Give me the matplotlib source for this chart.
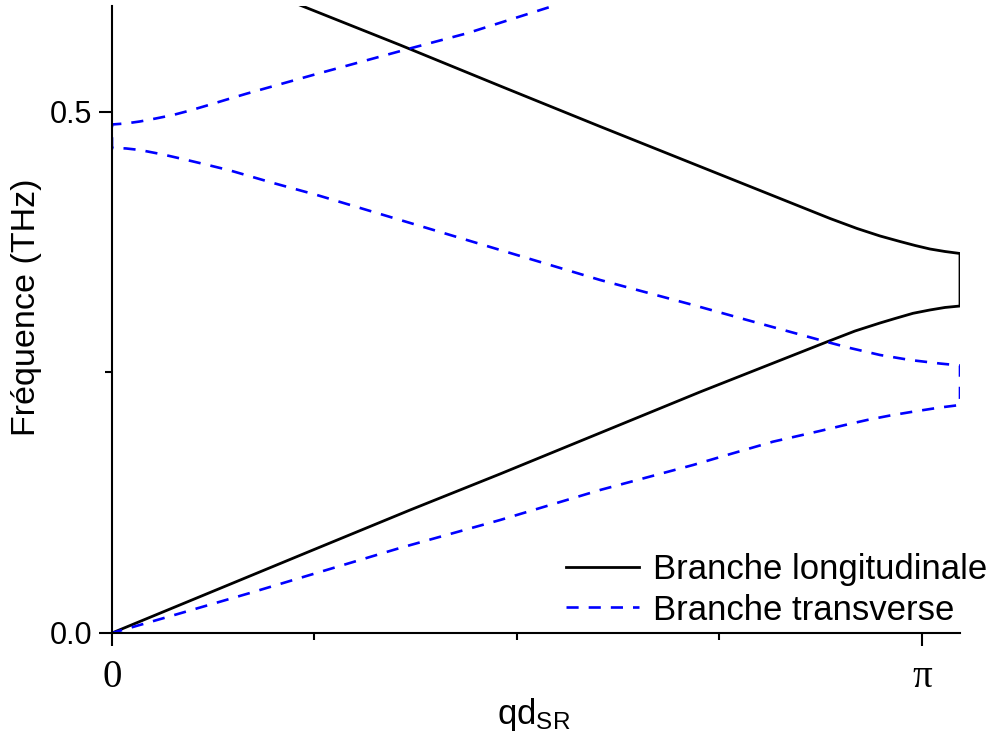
import numpy as np
import matplotlib
matplotlib.use('Agg')
import matplotlib.pyplot as plt

plt.rcParams['font.family'] = ['Liberation Sans', 'DejaVu Sans']
plt.rcParams['mathtext.default'] = 'regular'

# branche longitudinale : branche haute (de gauche a droite), puis branche basse (retour vers 0)
qL = [0.7214, 1.1170, 1.5049, 1.8927, 2.2806, 2.5908, 2.7848, 2.8895, 2.9787, 3.0563, 3.1144,
      3.1726, 3.2308, 3.2890,
      3.2890, 3.2308, 3.1726, 3.1067, 3.0369, 2.9787, 2.8817, 2.7720, 2.2806, 1.5049, 1.1558,
      0.7680, 0.0]
fL = [0.6033, 0.5643, 0.5250, 0.4861, 0.4477, 0.4170, 0.3978, 0.3882, 0.3810, 0.3757, 0.3719,
      0.3685, 0.3661, 0.3642,
      0.3138, 0.3124, 0.3100, 0.3068, 0.3018, 0.2975, 0.2898, 0.2793, 0.2313, 0.1526, 0.1180,
      0.0785, 0.0]

# branche transverse
qT = [1.7764, 1.7104, 1.3769, 1.1442, 0.7796, 0.5236, 0.4460, 0.3685, 0.3025, 0.2366, 0.1707,
      0.1086, 0.0543, 0.0,
      0.0, 0.0543, 0.1086, 0.1978, 0.2909, 0.3723, 0.4577, 0.6244, 0.7951, 1.1170, 1.5049, 1.8927,
      2.2534, 2.4628, 2.7731, 2.8623, 2.9787, 3.0950, 3.2114, 3.2890,
      3.2890, 3.2114, 3.1067, 3.0175, 2.9283, 2.8429, 2.7460, 2.5637, 2.3853, 2.2534, 1.8927,
      1.5049, 1.1170, 0.7679, 0.5352, 0.2521, 0.0]
fT = [0.6064, 0.6017, 0.5755, 0.5602, 0.5355, 0.5177, 0.5120, 0.5062, 0.5014, 0.4971, 0.4938,
      0.4909, 0.4890, 0.4880,
      0.4655, 0.4650, 0.4635, 0.4592, 0.4539, 0.4491, 0.4439, 0.4319, 0.4203, 0.3964, 0.3676, 0.3388,
      0.3148, 0.3004, 0.2793, 0.2735, 0.2668, 0.2620, 0.2586, 0.2567,
      0.2188, 0.2164, 0.2124, 0.2087, 0.2044, 0.1996, 0.1939, 0.1836, 0.1708, 0.1612, 0.1372,
      0.1084, 0.0816, 0.0557, 0.0384, 0.0180, 0.0]

fig = plt.figure(figsize=(9.98, 7.37), dpi=100)
ax = fig.add_axes([112/998, 104/737, 848/998, 627/737])

ax.plot(qL, fL, color='black', lw=2.0, label='Branche longitudinale')
ax.plot(qT, fT, color=(0, 0, 1), lw=1.9, dashes=(4.6, 3.8), label='Branche transverse')

ax.set_xlim(0, 3.289)
ax.set_ylim(0, 0.6017)

for s in ['top', 'right']:
    ax.spines[s].set_visible(False)
for s in ['left', 'bottom']:
    ax.spines[s].set_linewidth(1.5)

ax.set_xticks([0, np.pi])
ax.set_xticklabels(['0', 'π'], family=['Liberation Serif', 'DejaVu Serif'], fontsize=28)
ax.set_xticks([np.pi/4, np.pi/2, 3*np.pi/4], minor=True)
ax.set_yticks([0, 0.5])
ax.set_yticklabels(['0.0', '0.5'], fontsize=22)
ax.set_yticks([0.25], minor=True)
ax.tick_params(which='major', length=9.4, width=1.5, direction='out')
ax.tick_params(which='minor', length=5, width=1.5, direction='out')
ax.tick_params(axis='x', which='major', pad=9)
ax.tick_params(axis='y', which='major', pad=5)

ax.set_xlabel('qd$_{SR}$', fontsize=25)
ax.xaxis.set_label_coords((534-112)/848, -0.1)
ax.set_ylabel('Fréquence (THz)', fontsize=24.5)
ax.yaxis.set_label_coords(-0.083, 0.52)

ax.legend(loc='upper left', bbox_to_anchor=(566/998, 1 - 553/737), bbox_transform=fig.transFigure,
          frameon=False, fontsize=25, borderpad=0, borderaxespad=0, handlelength=2.1,
          handletextpad=0.4, labelspacing=0.22)

plt.savefig('out.png', dpi=100)
